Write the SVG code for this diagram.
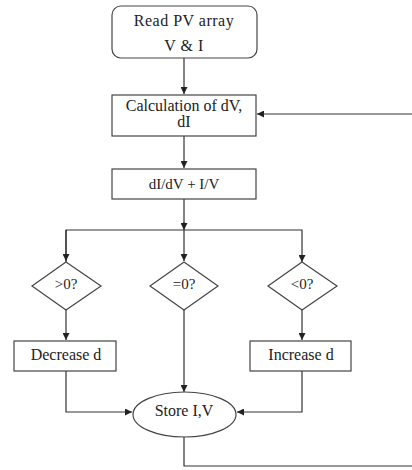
<svg xmlns="http://www.w3.org/2000/svg" width="412" height="470" viewBox="0 0 412 470">
<style>
.box{fill:#fff;stroke:#444;stroke-width:1.2}
.t{font-family:"Liberation Serif","Times New Roman",serif;font-size:16px;fill:#222;text-anchor:middle}
.s{font-size:15px}
.c{fill:none;stroke:#333;stroke-width:1.2}
</style>
<defs>
<marker id="a" viewBox="0 0 8 8" refX="8" refY="4" markerWidth="7" markerHeight="7" markerUnits="userSpaceOnUse" orient="auto">
<path d="M0,0 L8,4 L0,8 z" fill="#222"/>
</marker>
</defs>
<rect width="412" height="470" fill="#fff"/>
<g id="connectors">
<path class="c" d="M184,58 V94" marker-end="url(#a)"/>
<path class="c" d="M184,136 V168" marker-end="url(#a)"/>
<path class="c" d="M184,199 V229"/>
<path class="c" d="M66,262 V230 H302 V262" marker-end="url(#a)"/>
<path class="c" d="M66,230 V261" marker-end="url(#a)"/>
<path class="c" d="M184,230 V261" marker-end="url(#a)"/>
<path class="c" d="M184,222 V230" marker-end="url(#a)"/>
<path class="c" d="M66,310 V340" marker-end="url(#a)"/>
<path class="c" d="M302,310 V340" marker-end="url(#a)"/>
<path class="c" d="M184,310 V392" marker-end="url(#a)"/>
<path class="c" d="M66,371 V412 H132" marker-end="url(#a)"/>
<path class="c" d="M302,371 V412 H237" marker-end="url(#a)"/>
<path class="c" d="M184,437 V466 H416 V114 H257" marker-end="url(#a)"/>
</g>
<g id="read">
<rect class="box" x="112" y="6" width="145" height="52" rx="9"/>
<text class="t" x="184" y="26" letter-spacing="0.5">Read PV array</text>
<text class="t" x="184" y="51" letter-spacing="0.5">V &amp; I</text>
</g>
<g id="calc">
<rect class="box" x="112" y="95" width="144" height="41"/>
<text class="t" x="184" y="111" font-size="15.3">Calculation of dV,</text>
<text class="t" x="184" y="127" font-size="15.3">dI</text>
</g>
<g id="ratio">
<rect class="box" x="112" y="169" width="144" height="30"/>
<text class="t s" x="184" y="189">dI/dV + I/V</text>
</g>
<g id="gt">
<polygon class="box" points="66,262 101,286 66,310 32,286"/>
<text class="t s" x="66" y="289">&gt;0?</text>
</g>
<g id="eq">
<polygon class="box" points="184,262 218,286 184,310 150,286"/>
<text class="t s" x="184" y="289">=0?</text>
</g>
<g id="lt">
<polygon class="box" points="302,262 337,286 302,310 268,286"/>
<text class="t s" x="302" y="289">&lt;0?</text>
</g>
<g id="dec">
<rect class="box" x="14" y="341" width="102" height="30"/>
<text class="t" x="66" y="360">Decrease d</text>
</g>
<g id="inc">
<rect class="box" x="250" y="341" width="101" height="30"/>
<text class="t" x="301" y="360">Increase d</text>
</g>
<g id="store">
<ellipse class="box" cx="184.5" cy="414.5" rx="51.5" ry="22.5"/>
<text class="t" x="184" y="416">Store I,V</text>
</g>
</svg>
